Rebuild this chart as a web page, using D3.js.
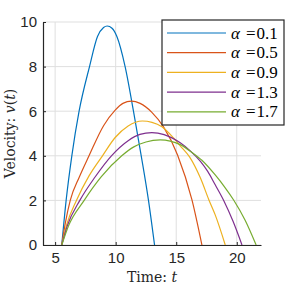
<!DOCTYPE html>
<html lang="en">
<head>
<meta charset="utf-8">
<title>Velocity vs time</title>
<script src="https://d3js.org/d3.v7.js"></script>
<style>
  body { margin: 0; background: #fff; }
</style>
</head>
<body>
<script>
// values, one pair of arrays per curve
var alphas = ["0.1", "0.5", "0.9", "1.3", "1.7"];
var colors = ["#0072BD", "#D95319", "#EDB120", "#7E2F8E", "#77AC30"];

var t1 = [5.55, 5.91, 6.38, 6.98, 7.84, 8.5, 9.0, 9.3, 9.7, 10.1, 10.78, 11.47, 12.11, 12.71, 13.21];
var v1 = [0, 2, 4, 6, 8, 9.35, 9.75, 9.82, 9.72, 9.35, 8, 6, 4, 2, 0];

var t2 = [5.55, 5.85, 6.25, 7.0, 7.8, 9.0, 9.96, 10.6, 11.3, 12.02, 12.99, 13.95, 15.11, 16.3, 17.12];
var v2 = [0, 1, 2, 3.05, 4, 5.35, 6.05, 6.35, 6.45, 6.35, 5.95, 5.3, 4.04, 2.02, 0];

var t3 = [5.55, 5.95, 6.76, 7.8, 8.91, 9.96, 11.03, 12.2, 13.0, 13.82, 14.78, 15.33, 16.1, 17.0, 17.7, 18.22, 19.05];
var v3 = [0, 0.9, 2, 3.1, 4, 4.82, 5.34, 5.56, 5.5, 5.3, 4.8, 4.45, 3.95, 3.0, 2.02, 1.35, 0];

var t4 = [5.55, 6.0, 7.04, 8.3, 9.65, 11.03, 12.0, 12.99, 14.0, 15.33, 16.2, 17.0, 17.6, 18.22, 18.9, 19.7, 20.43];
var v4 = [0, 0.85, 2, 3.05, 4, 4.68, 4.96, 5.04, 4.95, 4.58, 4.2, 3.75, 3.3, 2.7, 2.02, 1.05, 0];

var t5 = [5.55, 6.1, 7.4, 8.8, 10.5, 11.5, 12.5, 13.68, 14.5, 15.33, 16.3, 17.12, 18.22, 19.0, 19.74, 20.7, 21.6];
var v5 = [0, 0.85, 2, 3.05, 4, 4.4, 4.62, 4.71, 4.66, 4.5, 4.15, 3.8, 3.14, 2.6, 2.02, 1.1, 0];

var xTicks = [5, 10, 15, 20];
var yTicks = [0, 2, 4, 6, 8, 10];

var series = [[t1, v1], [t2, v2], [t3, v3], [t4, v4], [t5, v5]];

var W = 288, H = 288;
var pL = 43, pR = 261, pT = 22, pB = 245;

var svg = d3.select("body").append("svg")
  .attr("width", W)
  .attr("height", H);

var x = d3.scaleLinear().domain([4, 22]).range([pL, pR]);
var y = d3.scaleLinear().domain([0, 10]).range([pB, pT]);

// grid
svg.append("g").selectAll("line")
  .data(xTicks).enter()
  .append("line")
  .attr("x1", d => x(d)).attr("x2", d => x(d))
  .attr("y1", pT).attr("y2", pB)
  .attr("stroke", "#dfdfdf").attr("stroke-width", 1);

svg.append("g").selectAll("line")
  .data(yTicks).enter()
  .append("line")
  .attr("x1", pL).attr("x2", pR)
  .attr("y1", d => y(d)).attr("y2", d => y(d))
  .attr("stroke", "#dfdfdf").attr("stroke-width", 1);

// curves
var line = d3.line()
  .x(d => x(d[0]))
  .y(d => y(d[1]))
  .curve(d3.curveMonotoneX);

svg.append("g").selectAll("path")
  .data(series).enter()
  .append("path")
  .attr("d", s => line(s[0].map((t, i) => [t, s[1][i]])))
  .attr("fill", "none")
  .attr("stroke", (s, i) => colors[i])
  .attr("stroke-width", 1.2);

// axes (ticks point inward)
var xAxis = svg.append("g")
  .attr("transform", "translate(0," + pB + ")")
  .call(d3.axisBottom(x).tickValues(xTicks).tickSizeInner(-3).tickSizeOuter(0).tickPadding(7));
var yAxis = svg.append("g")
  .attr("transform", "translate(" + pL + ",0)")
  .call(d3.axisLeft(y).tickValues(yTicks).tickSizeInner(-3).tickSizeOuter(0).tickPadding(6));

[xAxis, yAxis].forEach(function(a) {
  a.select(".domain").attr("stroke", "#262626").attr("stroke-width", 1.2);
  a.selectAll(".tick line").attr("stroke", "#262626");
  a.selectAll(".tick text")
    .attr("fill", "#262626")
    .attr("font-family", "Liberation Sans, Arial, sans-serif")
    .attr("font-size", "15px");
});

// axis labels
var xl = svg.append("text")
  .attr("x", (pL + pR) / 2)
  .attr("y", 282)
  .attr("text-anchor", "middle")
  .attr("font-family", "DejaVu Serif, Liberation Serif, serif")
  .attr("font-size", "14px")
  .attr("fill", "#262626");
xl.append("tspan").text("Time: ");
xl.append("tspan").attr("font-style", "italic").text("t");

var yl = svg.append("text")
  .attr("transform", "translate(15," + ((pT + pB) / 2) + ") rotate(-90)")
  .attr("text-anchor", "middle")
  .attr("font-family", "DejaVu Serif, Liberation Serif, serif")
  .attr("font-size", "14px")
  .attr("fill", "#262626");
yl.append("tspan").text("Velocity: ");
yl.append("tspan").attr("font-style", "italic").text("v");
yl.append("tspan").text("(");
yl.append("tspan").attr("font-style", "italic").text("t");
yl.append("tspan").text(")");

// legend
var lg = svg.append("g");
lg.append("rect")
  .attr("x", 162).attr("y", 20)
  .attr("width", 122).attr("height", 105)
  .attr("fill", "#fff")
  .attr("stroke", "#262626").attr("stroke-width", 1.2);

var rows = lg.selectAll("g.row")
  .data(alphas).enter()
  .append("g")
  .attr("transform", (d, i) => "translate(0," + (33 + i * 19.7) + ")");

rows.append("line")
  .attr("x1", 167).attr("x2", 226)
  .attr("y1", 0).attr("y2", 0)
  .attr("stroke", (d, i) => colors[i])
  .attr("stroke-width", 1.2);

var lt = rows.append("text")
  .attr("x", 231).attr("y", 5.5)
  .attr("font-family", "Liberation Serif, DejaVu Serif, serif")
  .attr("font-size", "17px")
  .attr("fill", "#000");
lt.append("tspan").attr("font-style", "italic").text("α");
lt.append("tspan").attr("dx", 6).text("=");
lt.append("tspan").attr("dx", 1).text(d => d);
</script>
</body>
</html>
